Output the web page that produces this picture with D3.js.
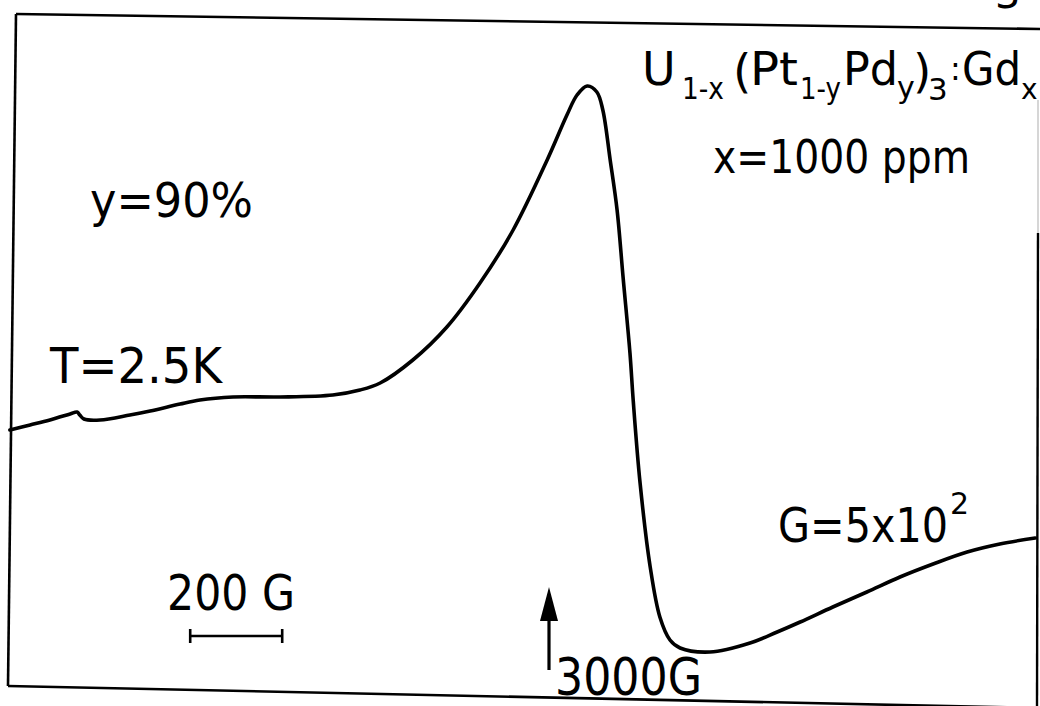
<!DOCTYPE html>
<html>
<head>
<meta charset="utf-8">
<script src="https://cdn.jsdelivr.net/npm/d3@7"></script>
<style>
  html, body { margin: 0; padding: 0; background: #fff; }
  svg { display: block; }
  text { font-family: "DejaVu Sans", sans-serif; fill: #000; }
</style>
</head>
<body>
<div id="chart"></div>
<script>
// ESR derivative spectrum of U(1-x)(Pt(1-y)Pd(y))3:Gd(x), field in gauss
const fieldG = [1828, 1872, 1915, 1959, 1974, 1980, 1989, 2024, 2089, 2133,
                2198, 2241, 2313, 2415, 2530, 2589, 2633, 2704, 2778, 2850,
                2922, 2996, 3039, 3061, 3083, 3104, 3117, 3133, 3148, 3161,
                3176, 3183, 3198, 3220, 3241, 3263, 3285, 3350, 3437, 3496,
                3546, 3617, 3691, 3763, 3835, 3909, 3980, 4057];
// dP/dH signal, arbitrary units
const signal = [-3.0, -2.5, -2.0, -1.4, -1.2, -1.5, -1.9, -2.0, -1.5, -1.1,
                -0.4, 0.0, 0.3, 0.3, 0.5, 1.0, 1.7, 4.0, 7.3, 11.7,
                17.0, 24.0, 28.5, 30.5, 31.4, 30.8, 29.0, 24.0, 19.0, 12.3,
                4.7, 0.0, -8.3, -16.7, -21.7, -24.0, -24.8, -25.2, -24.3, -23.2,
                -22.2, -20.7, -19.2, -17.7, -16.4, -15.2, -14.4, -13.8];

// field markers: reference arrow and 200 G scale bar
const markerField = 3000;           // G
const markerSpan = [-27.0, -18.7];  // signal units (arrow tail, arrow tip)
const scaleBarField = [2220, 2420]; // G, 200 G span
const scaleBarLevel = -23.6;

const W = 1040, H = 706;
const svg = d3.select("#chart").append("svg")
  .attr("width", W).attr("height", H);

const x = d3.scaleLinear().domain([1800, 4100]).range([-3, 1055]);
const y = d3.scaleLinear().domain([-30, 40]).range([700, 0]);

// frame of the recorder trace
const frame = svg.append("g").attr("fill", "none").attr("stroke", "#000");
frame.append("path").attr("stroke-width", 2.6).attr("d", "M16,14 L1040,29");
frame.append("path").attr("stroke-width", 2.6).attr("d", "M16,14 L8,686");
frame.append("path").attr("stroke-width", 2.6).attr("d", "M8,686 L1040,708");
frame.append("path").attr("stroke-width", 1.2).attr("stroke", "#bbb").attr("d", "M1038,100 L1038,233");
frame.append("path").attr("stroke-width", 2.4).attr("d", "M1038,233 L1037,706");

// spectrum
const pts = fieldG.map((f, i) => [f, signal[i]]);
svg.append("path")
  .datum(pts)
  .attr("fill", "none")
  .attr("stroke", "#000")
  .attr("stroke-width", 3.6)
  .attr("stroke-linejoin", "round")
  .attr("stroke-linecap", "round")
  .attr("d", d3.line().x(d => x(d[0])).y(d => y(d[1])).curve(d3.curveCatmullRom.alpha(0.5)));

// 200 G scale bar
const sb = svg.append("g").attr("stroke", "#000");
sb.append("line")
  .attr("x1", x(scaleBarField[0])).attr("x2", x(scaleBarField[1]))
  .attr("y1", y(scaleBarLevel)).attr("y2", y(scaleBarLevel))
  .attr("stroke-width", 2.4);
scaleBarField.forEach(f => {
  sb.append("line")
    .attr("x1", x(f)).attr("x2", x(f))
    .attr("y1", y(scaleBarLevel) - 7).attr("y2", y(scaleBarLevel) + 7)
    .attr("stroke-width", 2.6);
});

// 3000 G arrow
const ax = x(markerField), aTail = y(markerSpan[0]), aTip = y(markerSpan[1]);
svg.append("line")
  .attr("x1", ax).attr("x2", ax).attr("y1", aTail).attr("y2", aTip + 20)
  .attr("stroke", "#000").attr("stroke-width", 3.2);
svg.append("path")
  .attr("d", `M${ax},${aTip} L${ax - 9},${aTip + 34} L${ax + 9},${aTip + 34} Z`)
  .attr("fill", "#000");

// labels
function label(txt, lx, ly, size, len) {
  const t = svg.append("text")
    .attr("x", lx).attr("y", ly)
    .attr("font-size", size)
    .text(txt);
  if (len) t.attr("textLength", len).attr("lengthAdjust", "spacingAndGlyphs");
  return t;
}
label("y=90%", 90, 217, 48, 163);
label("T=2.5K", 50, 383, 49, 172);
label("200 G", 167, 610, 50, 128);
label("3000G", 555, 695, 51, 147);
label("x=1000 ppm", 713, 173, 46, 257);
label("G=5x10", 778, 542, 48, 170);
label("2", 950, 514, 30);

// formula U(1-x)(Pt(1-y)Pd(y))3:Gd(x)
const formula = [
  { t: "U",   x: 642, y: 85,  s: 46 },
  { t: "1-x", x: 682, y: 99,  s: 30, w: 42 },
  { t: "(",   x: 733, y: 87,  s: 47 },
  { t: "Pt",  x: 750, y: 85,  s: 47, w: 48 },
  { t: "1-y", x: 800, y: 99,  s: 30, w: 41 },
  { t: "Pd",  x: 843, y: 85,  s: 47, w: 55 },
  { t: "y",   x: 897, y: 98,  s: 30 },
  { t: ")",   x: 913, y: 87,  s: 47 },
  { t: "3",   x: 928, y: 100, s: 31 },
  { t: ":",   x: 950, y: 80,  s: 32 },
  { t: "Gd",  x: 962, y: 85,  s: 47, w: 59 },
  { t: "x",   x: 1021, y: 99, s: 28 }
];
formula.forEach(p => label(p.t, p.x, p.y, p.s, p.w));

// page number fragment at the top edge
label("3", 995, 8, 40);
</script>
</body>
</html>
